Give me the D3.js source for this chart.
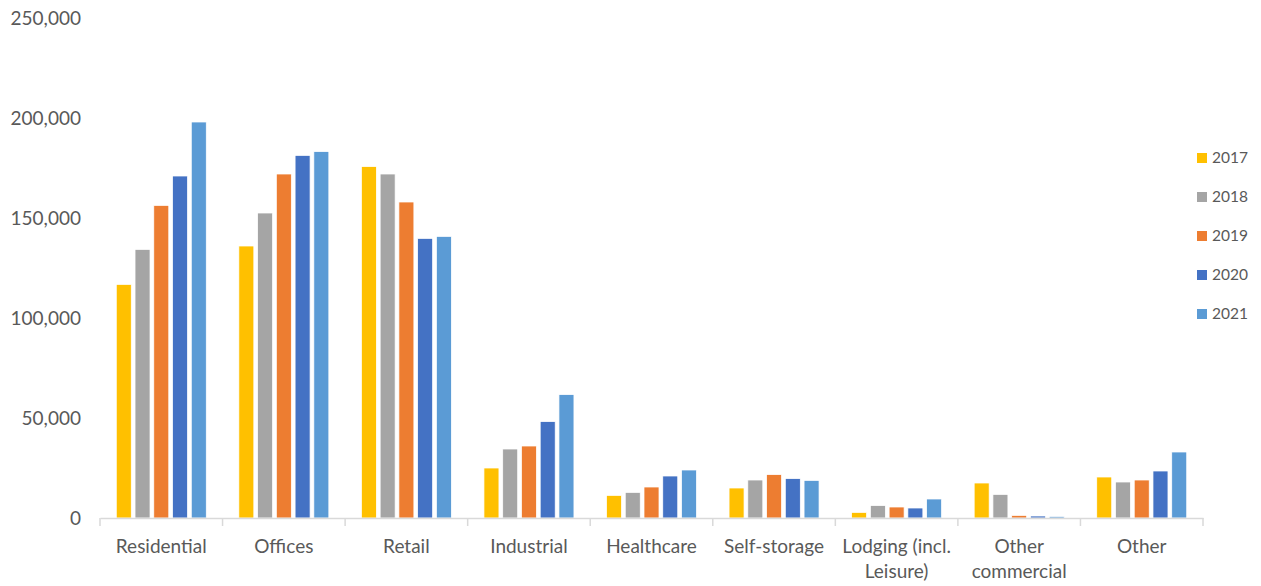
<!DOCTYPE html>
<html>
<head>
<meta charset="utf-8">
<script src="https://cdn.jsdelivr.net/npm/d3@7/dist/d3.min.js"></script>
<style>
  html, body { margin: 0; padding: 0; background: #fff; }
  svg { display: block; }
  text { font-family: Lato, "Open Sans", sans-serif; fill: #595959; }
</style>
</head>
<body>
<svg id="chart" width="1261" height="586"></svg>
<script>
const categories = ["Residential", "Offices", "Retail", "Industrial", "Healthcare", "Self-storage", "Lodging (incl. Leisure)", "Other commercial", "Other"];
const years = ["2017", "2018", "2019", "2020", "2021"];
const values2017 = [116800, 136000, 175700, 25000, 11300, 15000, 2800, 17500, 20500];
const values2018 = [134300, 152500, 172000, 34500, 12800, 19000, 6200, 11800, 18000];
const values2019 = [156300, 172000, 158000, 36000, 15500, 21700, 5500, 1300, 19000];
const values2020 = [171000, 181300, 139800, 48200, 21000, 19700, 5000, 1000, 23500];
const values2021 = [198000, 183200, 140800, 61700, 24000, 18800, 9500, 800, 33000];
const yTicks = [0, 50000, 100000, 150000, 200000, 250000];
const colors = ["#FFC000", "#A5A5A5", "#ED7D31", "#4472C4", "#5B9BD5"];

(function () {
const series = [values2017, values2018, values2019, values2020, values2021];
const svg = d3.select("#chart");

const mLeft = 100, mRight = 1203, mTop = 18, mBottom = 518;

const y = d3.scaleLinear().domain([0, 250000]).range([mBottom, mTop]);
const x0 = d3.scaleBand().domain(categories).range([mLeft, mRight]).paddingInner(0.235).paddingOuter(0.1175);
const x1 = d3.scaleBand().domain(years).range([0, x0.bandwidth()]).paddingInner(0.2).paddingOuter(0.1);
const color = d3.scaleOrdinal().domain(years).range(colors);

// Y axis labels
const fmt = d3.format(",");
const yAxis = d3.axisLeft(y).tickValues(yTicks).tickFormat(d => fmt(d)).tickSize(0).tickPadding(0);
const yg = svg.append("g").attr("transform", `translate(81,0)`).call(yAxis);
yg.select(".domain").remove();
yg.selectAll("text").style("font-family", "Lato, 'Open Sans', sans-serif").style("font-size", "19px").attr("fill", "#595959");

// Bars
const groups = svg.append("g").selectAll("g")
  .data(categories)
  .join("g")
  .attr("transform", d => `translate(${x0(d)},0)`);

groups.selectAll("rect")
  .data((d, i) => years.map((yr, j) => ({ yr, v: series[j][i] })))
  .join("rect")
  .attr("x", d => x1(d.yr))
  .attr("width", x1.bandwidth())
  .attr("y", d => y(d.v))
  .attr("height", d => y(0) - y(d.v))
  .attr("fill", d => color(d.yr))
  .attr("stroke", "#fff")
  .attr("stroke-width", 0.75);

// X axis
const step = x0.step();
const xAxis = d3.axisBottom(x0).tickSize(0).tickPadding(0).tickFormat("");
const xg = svg.append("g").attr("transform", `translate(0,${mBottom})`).call(xAxis);
xg.select(".domain").attr("stroke", "#d9d9d9").attr("stroke-width", 1.5);
const bounds = d3.range(categories.length + 1).map(i => mLeft + i * step);
xg.selectAll("line.bound").data(bounds).join("line").attr("class", "bound")
  .attr("x1", d => d).attr("x2", d => d).attr("y1", 0).attr("y2", 8)
  .attr("stroke", "#d9d9d9").attr("stroke-width", 1.5);

// Category labels with wrapping
const labelG = svg.append("g");
categories.forEach(cat => {
  const cx = x0(cat) + x0.bandwidth() / 2;
  const t = labelG.append("text").attr("x", cx).attr("y", 553)
    .attr("text-anchor", "middle").style("font-size", "19px");
  const words = cat.split(" ");
  let line = [];
  let lines = [];
  const tmp = t.append("tspan");
  words.forEach(w => {
    const test = line.concat([w]).join(" ");
    tmp.text(test);
    if (tmp.node().getComputedTextLength() > step - 6 && line.length) {
      lines.push(line.join(" "));
      line = [w];
    } else {
      line.push(w);
    }
  });
  lines.push(line.join(" "));
  tmp.remove();
  lines.forEach((l, i) => {
    t.append("tspan").attr("x", cx).attr("y", 553 + i * 25).text(l);
  });
});

// Legend
const legend = svg.append("g");
years.forEach((yr, i) => {
  const cy = 158 + i * 39;
  legend.append("rect").attr("x", 1197).attr("y", cy - 5).attr("width", 10).attr("height", 10).attr("fill", color(yr));
  legend.append("text").attr("x", 1212).attr("y", cy).attr("dy", "0.35em").style("font-size", "15.5px").text(yr);
});
})();
</script>
</body>
</html>
